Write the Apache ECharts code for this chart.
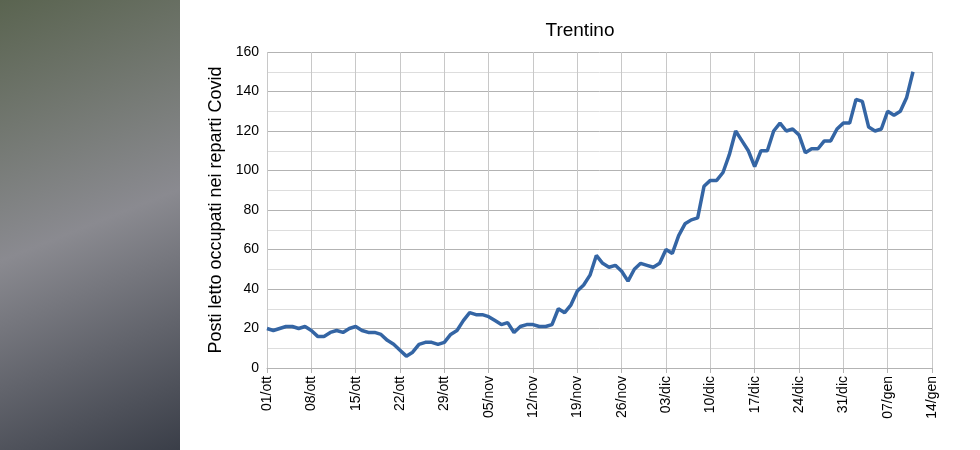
<!DOCTYPE html>
<html><head><meta charset="utf-8">
<script src="https://cdn.jsdelivr.net/npm/echarts@6/dist/echarts.min.js"></script>
<style>html,body{margin:0;padding:0;background:#fff}#c{width:980px;height:450px}</style>
</head><body><div id="c"></div>
<script>
const tickLabels = ["01/ott","08/ott","15/ott","22/ott","29/ott","05/nov","12/nov","19/nov","26/nov","03/dic","10/dic","17/dic","24/dic","31/dic","07/gen","14/gen"];
const values = [20,19,20,21,21,20,21,19,16,16,18,19,18,20,21,19,18,18,17,14,12,9,6,8,12,13,13,12,13,17,19,24,28,27,27,26,24,22,23,18,21,22,22,21,21,22,30,28,32,39,42,47,57,53,51,52,49,44,50,53,52,51,53,60,58,67,73,75,76,92,95,95,99,108,120,115,110,102,110,110,120,124,120,121,118,109,111,111,115,115,121,124,124,136,135,122,120,121,130,128,130,137,150];
const yTicks = [0,20,40,60,80,100,120,140,160];
const chart = echarts.init(document.getElementById('c'));
chart.setOption({
  animation:false,
  title:{text:'Trentino',left:575,top:16,textAlign:'center',textStyle:{fontFamily:'Liberation Sans',fontWeight:'normal',fontSize:19,color:'#000'}},
  graphic:[{type:'rect',shape:{x:0,y:0,width:180,height:450},style:{fill:new echarts.graphic.LinearGradient(0,0,1,1,[{offset:0,color:'#5a6450'},{offset:0.5,color:'#8a8a90'},{offset:1,color:'#3a3e48'}])}}],
  grid:{left:267,right:48,top:52,bottom:82},
  xAxis:{type:'value',min:0,max:105,interval:7,
    axisLine:{lineStyle:{color:'#b3b3b3'}},axisTick:{show:true,length:5,lineStyle:{color:'#b3b3b3'}},
    splitLine:{show:true,lineStyle:{color:'#c8c8c8'}},
    axisLabel:{rotate:90,color:'#000',fontFamily:'Liberation Sans',fontSize:14,formatter:v=>tickLabels[Math.round(v/7)]||''}},
  yAxis:{type:'value',min:0,max:160,interval:20,
    name:'Posti letto occupati nei reparti Covid',nameLocation:'middle',nameGap:40,
    nameTextStyle:{fontFamily:'Liberation Sans',fontSize:18,color:'#000'},
    axisLine:{show:false},axisTick:{show:false},
    axisLabel:{color:'#000',fontFamily:'Liberation Sans',fontSize:14,formatter:v=>yTicks.includes(v)?String(v):''},
    splitLine:{lineStyle:{color:'#b3b3b3'}},
    minorTick:{show:false,splitNumber:2},minorSplitLine:{show:true,lineStyle:{color:'#dddddd'}}},
  series:[{type:'line',data:values.map((v,i)=>[i,v]),showSymbol:false,lineStyle:{color:'#3465a4',width:3.5}}]
});
</script></body></html>
